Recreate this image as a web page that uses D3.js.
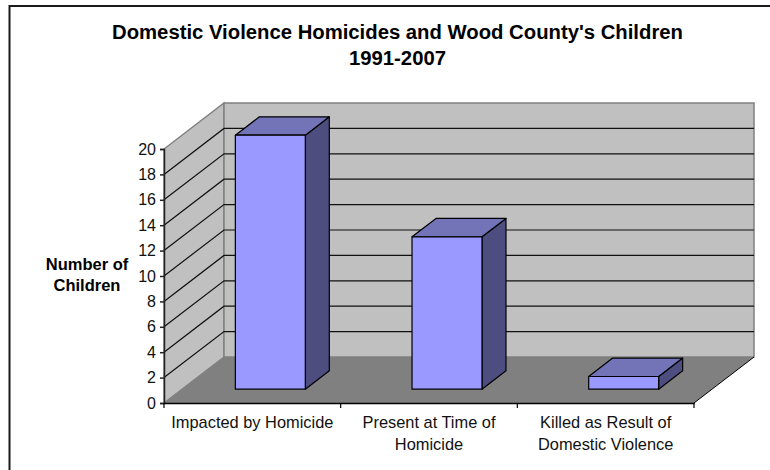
<!DOCTYPE html>
<html>
<head>
<meta charset="utf-8">
<style>
  html, body { margin: 0; padding: 0; background: #fff; }
  svg { display: block; font-family: "Liberation Sans", Arial, sans-serif; fill: #000; }
</style>
</head>
<body>
<div id="area"></div>
<script src="https://d3js.org/d3.v7.min.js"></script>
<script>
const categories = ["Impacted by Homicide", "Present at Time of Homicide", "Killed as Result of Domestic Violence"];
const categoryLines = [["Impacted by Homicide"], ["Present at Time of", "Homicide"], ["Killed as Result of", "Domestic Violence"]];
const values = [20, 12, 1];
const yTicks = [0, 2, 4, 6, 8, 10, 12, 14, 16, 18, 20];
const titleLines = ["Domestic Violence Homicides and Wood County's Children", "1991-2007"];
const yTitleLines = ["Number of", "Children"];

const width = 770, height = 470;
const plot = {left: 164, right: 694, top: 149, bottom: 403};
const depth = {dx: 60, dy: -46};   // oblique offset of the back wall

const svg = d3.select("#area").append("svg")
    .attr("width", width)
    .attr("height", height);

const x = d3.scaleBand().domain(categories).range([plot.left, plot.right]);
const y = d3.scaleLinear().domain([0, 20]).range([plot.bottom, plot.top]);

// d: 0 = front of the box, 1 = back wall
const at = (xv, v, d) => [xv + d * depth.dx, y(v) + d * depth.dy];
const poly = pts => pts.map(p => p.join(",")).join(" ");

// frame
svg.append("rect")
    .attr("x", 9.5).attr("y", 6)
    .attr("width", 800).attr("height", 500)
    .attr("fill", "#fff")
    .attr("stroke", "#1a1a1a")
    .attr("stroke-width", 2);

// walls and floor
const x0 = plot.left, x1 = plot.right;
svg.append("polygon")
    .attr("points", poly([at(x0, 0, 0), at(x0, 20, 0), at(x0, 20, 1), at(x0, 0, 1)]))
    .attr("fill", "#c0c0c0").attr("stroke", "#808080").attr("stroke-width", 1.5);
svg.append("polygon")
    .attr("points", poly([at(x0, 0, 1), at(x0, 20, 1), at(x1, 20, 1), at(x1, 0, 1)]))
    .attr("fill", "#c0c0c0").attr("stroke", "#808080").attr("stroke-width", 1.5);
svg.append("polygon")
    .attr("points", poly([at(x0, 0, 0), at(x0, 0, 1), at(x1, 0, 1), at(x1, 0, 0)]))
    .attr("fill", "#808080");

// gridlines run along the side wall then the back wall
svg.append("g").selectAll("polyline")
    .data(yTicks.filter(t => t > 0 && t < 20))
    .join("polyline")
    .attr("points", t => poly([at(x0, t, 0), at(x0, t, 1), at(x1, t, 1)]))
    .attr("fill", "none")
    .attr("stroke", "#111")
    .attr("stroke-width", 1.2);

// open edge of the floor
svg.append("line")
    .attr("x1", at(x1, 0, 0)[0]).attr("y1", at(x1, 0, 0)[1])
    .attr("x2", at(x1, 0, 1)[0]).attr("y2", at(x1, 0, 1)[1])
    .attr("stroke", "#000").attr("stroke-width", 1);

// bars
const barW = x.bandwidth() * 0.396;
const dFront = 0.3, dBack = 0.7;
const bars = svg.append("g").selectAll("g")
    .data(categories.map((c, i) => ({c, v: values[i]})))
    .join("g")
    .attr("stroke", "#000")
    .attr("stroke-width", 1.2)
    .attr("stroke-linejoin", "round");

const barL = d => x(d.c) + (x.bandwidth() - barW) / 2;
bars.append("polygon")   // side
    .attr("fill", "#4d4d80")
    .attr("points", d => {
      const r = barL(d) + barW;
      return poly([at(r, 0, dFront), at(r, d.v, dFront), at(r, d.v, dBack), at(r, 0, dBack)]);
    });
bars.append("polygon")   // top
    .attr("fill", "#7373b8")
    .attr("points", d => {
      const l = barL(d), r = l + barW;
      return poly([at(l, d.v, dFront), at(l, d.v, dBack), at(r, d.v, dBack), at(r, d.v, dFront)]);
    });
bars.append("polygon")   // front
    .attr("fill", "#9999ff")
    .attr("points", d => {
      const l = barL(d), r = l + barW;
      return poly([at(l, 0, dFront), at(l, d.v, dFront), at(r, d.v, dFront), at(r, 0, dFront)]);
    });

// axes
const yAxis = svg.append("g")
    .attr("transform", `translate(${plot.left},0)`)
    .call(d3.axisLeft(y).tickValues(yTicks).tickSize(4).tickPadding(4));
yAxis.selectAll("text").attr("font-size", 16).attr("font-family", "Liberation Sans").attr("fill", "#111");
yAxis.selectAll("line, path").attr("stroke", "#222").attr("stroke-width", 1.5);

const xAxis = svg.append("g")
    .attr("transform", `translate(0,${plot.bottom})`)
    .call(d3.axisBottom(x).tickSize(0).tickFormat(""));
xAxis.select(".domain").attr("stroke", "#000").attr("stroke-width", 1.5);
xAxis.selectAll(".tick").remove();
xAxis.selectAll("line.sep")
    .data(d3.range(categories.length + 1))
    .join("line")
    .attr("class", "sep")
    .attr("x1", i => i < categories.length ? x(categories[i]) : plot.right)
    .attr("x2", i => i < categories.length ? x(categories[i]) : plot.right)
    .attr("y1", 0).attr("y2", 5)
    .attr("stroke", "#000").attr("stroke-width", 1.2);

// category labels
svg.append("g").selectAll("text")
    .data(categories)
    .join("text")
    .attr("text-anchor", "middle")
    .attr("font-size", 16.4)
    .attr("fill", "#111")
    .attr("transform", c => `translate(${x(c) + x.bandwidth() / 2},428)`)
    .selectAll("tspan")
    .data((c, i) => categoryLines[i])
    .join("tspan")
    .attr("x", 0)
    .attr("y", (l, i) => i * 22)
    .text(l => l);

// titles
svg.append("g").selectAll("text")
    .data(titleLines)
    .join("text")
    .attr("x", 397.5)
    .attr("y", (l, i) => 39 + i * 26)
    .attr("text-anchor", "middle")
    .attr("font-size", 20.3)
    .attr("font-weight", "bold")
    .text(l => l);
svg.append("g").selectAll("text")
    .data(yTitleLines)
    .join("text")
    .attr("x", 87)
    .attr("y", (l, i) => 270 + i * 21)
    .attr("text-anchor", "middle")
    .attr("font-size", 16.5)
    .attr("font-weight", "bold")
    .text(l => l);
</script>
</body>
</html>
